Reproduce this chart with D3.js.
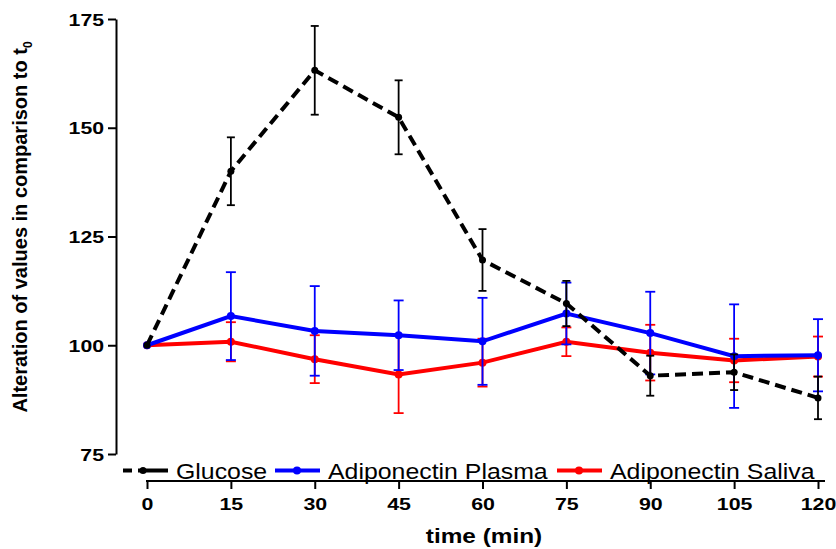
<!DOCTYPE html>
<html lang="en">
<head>
<meta charset="UTF-8">
<title>Glucose and adiponectin over time</title>
<script src="https://cdn.jsdelivr.net/npm/d3@7"></script>
<style>
  html, body { margin: 0; padding: 0; background: #fff; }
  svg { display: block; font-family: "Liberation Sans", Arial, sans-serif; }
</style>
</head>
<body>
<script>
  // values (percent of t0)
  const times = [0, 15, 30, 45, 60, 75, 90, 105, 120];
  const glucose = [100, 140.0, 163.2, 152.4, 119.6, 109.6, 93.0, 93.8, 87.9];
  const glucoseErr = [0, 7.8, 10.2, 8.5, 7.1, 5.2, 4.6, 4.1, 4.9];
  const plasma = [100, 106.7, 103.3, 102.3, 100.9, 107.3, 102.8, 97.5, 97.7];
  const plasmaErr = [0, 10.1, 10.3, 8.0, 10.0, 7.1, 9.5, 11.9, 8.3];
  const saliva = [100, 100.8, 96.8, 93.3, 96.0, 100.8, 98.3, 96.5, 97.4];
  const salivaErr = [0, 4.5, 5.5, 8.9, 5.5, 3.3, 6.4, 5.0, 4.6];
  const yTicks = [75, 100, 125, 150, 175];
  const seriesNames = ["Glucose", "Adiponectin Plasma", "Adiponectin Saliva"];

  const W = 836, H = 549;
  const svg = d3.select("body").append("svg").attr("width", W).attr("height", H);
  svg.append("rect").attr("width", W).attr("height", H).attr("fill", "#fff");

  const x = d3.scaleLinear().domain([0, 120]).range([147, 818]);
  const y = d3.scaleLinear().domain([75, 175]).range([454, 19]);
  const axisX = 116, axisY = 481;

  // text in the original is stretched sideways
  function stretch(sel, sx) {
    sel.each(function () {
      const t = d3.select(this);
      const x0 = +t.attr("x") || 0;
      t.attr("x", x0 / sx).attr("transform", `scale(${sx},1)`);
    });
  }

  // y axis
  const gy = svg.append("g").attr("transform", `translate(${axisX},0)`)
    .call(d3.axisLeft(y).tickValues(yTicks).tickSizeInner(8).tickSizeOuter(0).tickFormat(d3.format("d")));
  gy.select(".domain").attr("stroke", "#000").attr("stroke-width", 2);
  gy.selectAll(".tick line").attr("stroke", "#000").attr("stroke-width", 2);
  gy.selectAll(".tick text").attr("fill", "#000").attr("font-size", 17).attr("font-weight", "bold")
    .attr("font-family", "Liberation Sans, Arial, sans-serif").attr("x", -12).attr("dy", "0.36em");
  stretch(gy.selectAll(".tick text"), 1.25);

  // x axis
  const gx = svg.append("g").attr("transform", `translate(0,${axisY})`)
    .call(d3.axisBottom(x).tickValues(times).tickSizeInner(8).tickSizeOuter(0));
  gx.select(".domain").remove();
  gx.append("line").attr("x1", x(0) - 1).attr("x2", x(120) + 7)
    .attr("stroke", "#000").attr("stroke-width", 2);
  gx.selectAll(".tick line").attr("stroke", "#000").attr("stroke-width", 2);
  gx.selectAll(".tick text").attr("fill", "#000").attr("font-size", 16.8).attr("font-weight", "bold")
    .attr("font-family", "Liberation Sans, Arial, sans-serif").attr("y", 29).attr("dy", 0);
  stretch(gx.selectAll(".tick text"), 1.27);

  // axis titles
  const yl = svg.append("text")
    .attr("transform", "translate(27,227) rotate(-90)")
    .attr("text-anchor", "middle").attr("font-size", 20).attr("font-weight", "bold");
  yl.append("tspan").text("Alteration of values in comparison to t");
  yl.append("tspan").attr("font-size", 12).attr("dy", 5).text("0");

  const xl = svg.append("g").attr("transform", "translate(484,543)");
  xl.append("text").attr("text-anchor", "middle").attr("font-size", 19.5).attr("font-weight", "bold")
    .text("time (min)");
  stretch(xl.selectAll("text"), 1.25);

  // series
  const series = [
    { name: seriesNames[2], values: saliva, err: salivaErr, color: "#ff0000", dash: null, cap: 10, r: 4 },
    { name: seriesNames[1], values: plasma, err: plasmaErr, color: "#0000ff", dash: null, cap: 10, r: 4 },
    { name: seriesNames[0], values: glucose, err: glucoseErr, color: "#000000", dash: "11,6", cap: 8, r: 3.5 }
  ];

  const line = d3.line().x(d => x(d.t)).y(d => y(d.v));

  series.forEach(s => {
    const pts = times.map((t, i) => ({ t: t, v: s.values[i], e: s.err[i] }));
    const g = svg.append("g");
    const bars = g.selectAll("g.err").data(pts.filter(d => d.e > 0)).enter().append("g")
      .attr("stroke", s.color).attr("stroke-width", 1.8);
    bars.append("line").attr("x1", d => x(d.t)).attr("x2", d => x(d.t))
      .attr("y1", d => y(d.v + d.e)).attr("y2", d => y(d.v - d.e));
    bars.append("line").attr("x1", d => x(d.t) - s.cap / 2).attr("x2", d => x(d.t) + s.cap / 2)
      .attr("y1", d => y(d.v + d.e)).attr("y2", d => y(d.v + d.e));
    bars.append("line").attr("x1", d => x(d.t) - s.cap / 2).attr("x2", d => x(d.t) + s.cap / 2)
      .attr("y1", d => y(d.v - d.e)).attr("y2", d => y(d.v - d.e));
    g.append("path").datum(pts).attr("d", line).attr("fill", "none")
      .attr("stroke", s.color).attr("stroke-width", 4)
      .attr("stroke-dasharray", s.dash);
    g.selectAll("circle").data(pts).enter().append("circle")
      .attr("cx", d => x(d.t)).attr("cy", d => y(d.v)).attr("r", s.r).attr("fill", s.color);
  });

  // legend
  const legendX = [123, 275, 557];
  const legendY = 470.5;
  const legendSeries = [series[2], series[1], series[0]];
  legendSeries.forEach((s, i) => {
    const lg = svg.append("g").attr("transform", `translate(${legendX[i]},${legendY})`);
    lg.append("line").attr("x1", 0).attr("x2", 45).attr("stroke", s.color).attr("stroke-width", 4)
      .attr("stroke-dasharray", s.dash ? "9,6,40" : null);
    lg.append("circle").attr("cx", s.dash ? 20 : 22).attr("r", s.r).attr("fill", s.color);
    const tg = lg.append("g").attr("transform", "translate(53,8.5)");
    tg.append("text").attr("font-size", 22).attr("fill", "#000").text(s.name);
    stretch(tg.selectAll("text"), 1.13);
  });
</script>
</body>
</html>
